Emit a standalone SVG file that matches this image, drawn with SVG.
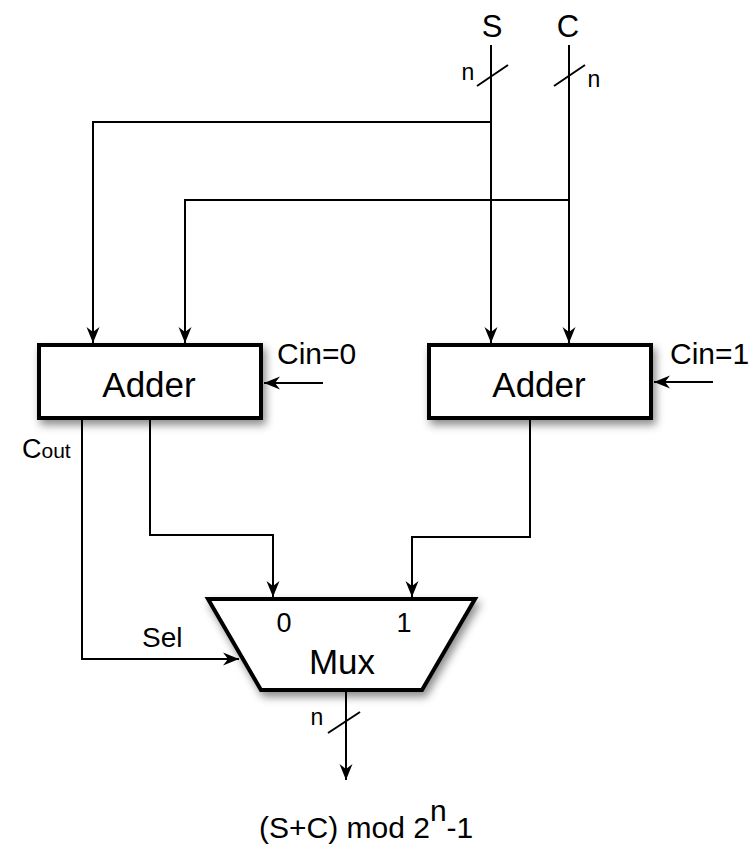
<svg xmlns="http://www.w3.org/2000/svg" width="749" height="851" viewBox="0 0 749 851">
<style>
.w{fill:none;stroke:#000;stroke-width:2}
.blk{fill:#fff;stroke:#000;stroke-width:4;stroke-linejoin:miter}
text{font-family:"Liberation Sans",Arial,sans-serif;fill:#000}
</style>
<defs>
<marker id="ah" markerUnits="userSpaceOnUse" markerWidth="18" markerHeight="18" viewBox="-17 -8 18 16" refX="0" refY="0" orient="auto">
<path d="M0,0 L-16,-6.5 L-11,0 L-16,6.5 Z" fill="#000"/>
</marker>
<filter id="sh" x="-20%" y="-20%" width="150%" height="160%">
<feDropShadow dx="3" dy="5" stdDeviation="4" flood-color="#000" flood-opacity="0.45"/>
</filter>
</defs>
<rect width="749" height="851" fill="#fff"/>
<g id="connectors">
<path class="w" d="M491,45 V343" marker-end="url(#ah)"/>
<path class="w" d="M491,122 H93 V343" marker-end="url(#ah)"/>
<path class="w" d="M569,45 V343" marker-end="url(#ah)"/>
<path class="w" d="M569,200 H185 V343" marker-end="url(#ah)"/>
<path class="w" d="M477,86 L508,65"/>
<path class="w" d="M554,86 L585,65"/>
<path class="w" d="M323,383 H264" marker-end="url(#ah)"/>
<path class="w" d="M713,382 H654" marker-end="url(#ah)"/>
<path class="w" d="M150,420 V535 H273 V597" marker-end="url(#ah)"/>
<path class="w" d="M530,420 V537 H412 V597" marker-end="url(#ah)"/>
<path class="w" d="M82,420 V659 H239" marker-end="url(#ah)"/>
<path class="w" d="M346,692 V780" marker-end="url(#ah)"/>
<path class="w" d="M328,733 L360,712"/>
</g>
<g id="adder0">
<rect class="blk" x="39" y="345" width="222" height="73" filter="url(#sh)"/>
<text x="149" y="397" font-size="35" text-anchor="middle">Adder</text>
</g>
<g id="adder1">
<rect class="blk" x="429" y="345" width="222" height="73" filter="url(#sh)"/>
<text x="539" y="397" font-size="35" text-anchor="middle">Adder</text>
</g>
<g id="mux">
<polygon class="blk" points="208,599 475,599 422,690 261,690" filter="url(#sh)"/>
<text x="284" y="632" font-size="27" text-anchor="middle">0</text>
<text x="404" y="632" font-size="27" text-anchor="middle">1</text>
<text x="342" y="674" font-size="35" text-anchor="middle">Mux</text>
</g>
<g id="labels">
<text x="492" y="37" font-size="31" text-anchor="middle">S</text>
<text x="568" y="37" font-size="31" text-anchor="middle">C</text>
<text x="468" y="80" font-size="23" text-anchor="middle">n</text>
<text x="594" y="87" font-size="23" text-anchor="middle">n</text>
<text x="317" y="725" font-size="23" text-anchor="middle">n</text>
<text x="277" y="364" font-size="30">Cin=0</text>
<text x="670" y="364" font-size="30">Cin=1</text>
<text x="22" y="458" font-size="27">C<tspan font-size="21">out</tspan></text>
<text x="142" y="647" font-size="28">Sel</text>
<text x="259" y="838" font-size="30">(S+C) mod 2<tspan dy="-17">n</tspan><tspan dy="17">-1</tspan></text>
</g>
</svg>
